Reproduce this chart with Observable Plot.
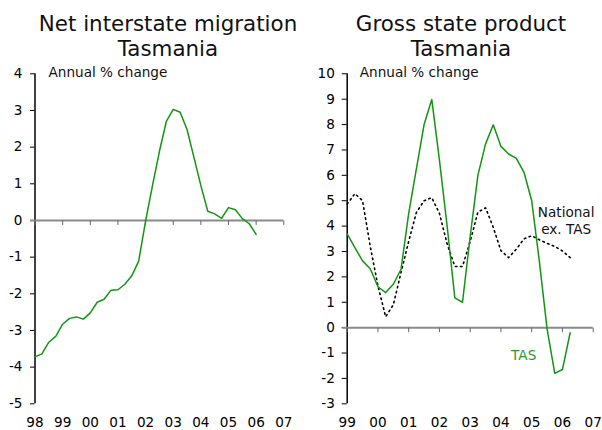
<!DOCTYPE html>
<html><head><meta charset="utf-8">
<script src="https://cdn.jsdelivr.net/npm/d3@7"></script>
<script src="https://cdn.jsdelivr.net/npm/@observablehq/plot@0.6"></script>
<style>
body{margin:0;background:#fff;}
#wrap{position:relative;width:602px;height:430px;overflow:hidden;font-family:"DejaVu Sans",Verdana,sans-serif;background:#fff;}
.panel{position:absolute;top:0;}
.panel svg{background:transparent !important;overflow:visible;}
.title{position:absolute;top:11px;font-size:21.4px;line-height:25px;text-align:center;color:#111;white-space:nowrap;transform:translateX(-50%);z-index:2;}
</style></head><body>
<div id="wrap">
 <div id="left" class="panel" style="left:0"></div>
 <div id="right" class="panel" style="left:301px"></div>
 <div class="title" style="left:168px">Net interstate migration<br>Tasmania</div>
 <div class="title" style="left:461px">Gross state product<br>Tasmania</div>
</div>
<script>
// ---- data ----
const migrationStart = 1998;   // first quarter of the series
const migration = [-3.72,-3.64,-3.32,-3.16,-2.83,-2.67,-2.63,-2.69,-2.52,-2.23,-2.15,-1.90,-1.89,-1.74,-1.51,-1.11,
  -0.02,0.95,1.88,2.70,3.03,2.95,2.48,1.72,0.95,0.25,0.18,0.06,0.35,0.29,0.05,-0.09,-0.38];

const gspStart = 1999;
const gspTas = [3.69,3.15,2.63,2.32,1.61,1.38,1.71,2.30,4.5,6.25,8.0,8.99,6.6,4.0,1.17,1.0,
  3.6,6.0,7.24,7.99,7.14,6.84,6.67,6.12,5.0,2.6,-0.05,-1.80,-1.65,-0.2];
const gspNational = [4.87,5.28,5.0,3.2,1.65,0.43,0.9,2.17,3.4,4.54,5.0,5.12,4.5,3.3,2.41,2.41,
  3.4,4.55,4.72,3.95,3.03,2.76,3.09,3.5,3.62,3.46,3.32,3.2,3.02,2.76];

const yearTicksLeft = [1998,1999,2000,2001,2002,2003,2004,2005,2006,2007];
const yearLabelsLeft = ["98","99","00","01","02","03","04","05","06","07"];
const yearTicksRight = [1999,2000,2001,2002,2003,2004,2005,2006,2007];
const yearLabelsRight = ["99","00","01","02","03","04","05","06","07"];
const yTicksLeft = [-5,-4,-3,-2,-1,0,1,2,3,4];
const yTicksRight = [-3,-2,-1,0,1,2,3,4,5,6,7,8,9,10];

const unitLabel = "Annual % change";
const nationalLabel = "National\nex. TAS";
const tasLabel = "TAS";

// ---- build ----
const toRows = (start, vals) => vals.map((v, i) => ({t: start + i * 0.25, v}));
const GREEN = "#129612";
const FONT = {fontFamily: "'DejaVu Sans', Verdana, sans-serif", fontSize: "13.6px", color: "#000", background: "transparent", overflow: "visible"};
const tickDown = {draw(ctx) { ctx.moveTo(0, 0); ctx.lineTo(0, 4.5); }};

function commonMarks(xmin, ticks) {
  return [
    Plot.ruleX([xmin], {stroke: "#000", strokeWidth: 1.5}),
    Plot.ruleY([0], {stroke: "#8a8a8a", strokeWidth: 2, insetLeft: -4.5}),
    Plot.dot(ticks, {x: d => d, y: () => 0, symbol: tickDown, stroke: "#666", fill: "none", strokeWidth: 1})
  ];
}

const left = Plot.plot({
  width: 301, height: 430,
  marginLeft: 34.5, marginRight: 17.7, marginTop: 73.3, marginBottom: 26.7,
  style: FONT,
  x: {domain: [1998, 2007], ticks: yearTicksLeft, tickFormat: d => yearLabelsLeft[yearTicksLeft.indexOf(d)], tickSize: 0, tickPadding: 13.5, label: null},
  y: {domain: [-5, 4], ticks: yTicksLeft, tickFormat: d => String(d), tickSize: 4.5, tickPadding: 8, label: null},
  marks: [
    ...commonMarks(1998, yearTicksLeft),
    Plot.line(toRows(migrationStart, migration), {x: "t", y: "v", stroke: GREEN, strokeWidth: 1.5}),
    Plot.text([unitLabel], {frameAnchor: "top-left", dx: 13.5, dy: -1, textAnchor: "start", lineAnchor: "middle", fill: "#111"})
  ]
});
document.getElementById("left").append(left);

const right = Plot.plot({
  width: 301, height: 430,
  marginLeft: 45.7, marginRight: 9.3, marginTop: 73.3, marginBottom: 26.7,
  style: FONT,
  x: {domain: [1999, 2007], ticks: yearTicksRight, tickFormat: d => yearLabelsRight[yearTicksRight.indexOf(d)], tickSize: 0, tickPadding: 13.5, label: null},
  y: {domain: [-3, 10], ticks: yTicksRight, tickFormat: d => String(d), tickSize: 5, tickPadding: 7.4, label: null},
  marks: [
    ...commonMarks(1999, yearTicksRight),
    Plot.line(toRows(gspStart, gspNational), {x: "t", y: "v", stroke: "#000", strokeWidth: 1.6, strokeDasharray: "1.5,3.6"}),
    Plot.line(toRows(gspStart, gspTas), {x: "t", y: "v", stroke: GREEN, strokeWidth: 1.5}),
    Plot.text([unitLabel], {frameAnchor: "top-left", dx: 12.6, dy: -1, textAnchor: "start", lineAnchor: "middle", fill: "#111"}),
    Plot.text([nationalLabel], {x: () => 2006.12, y: () => 4.22, textAnchor: "middle", lineAnchor: "middle", lineHeight: 1.25, fill: "#111"}),
    Plot.text([tasLabel], {x: () => 2004.74, y: () => -1.12, textAnchor: "middle", lineAnchor: "middle", fill: "#2a9a2a"})
  ]
});
document.getElementById("right").append(right);
</script>
</body></html>
